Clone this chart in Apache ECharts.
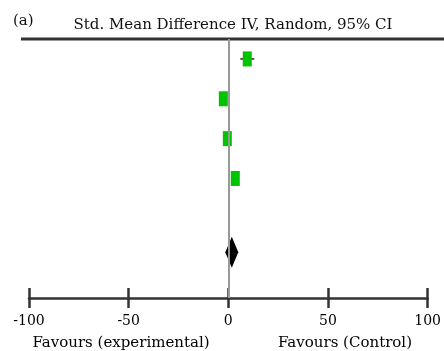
<!DOCTYPE html>
<html>
<head>
<meta charset="utf-8">
<script src="https://cdn.jsdelivr.net/npm/echarts@6/dist/echarts.min.js"></script>
<style>
html,body{margin:0;padding:0;background:#fff;}
#chart{width:444px;height:351px;}
</style>
</head>
<body>
<div id="chart"></div>
<script>
// 研究行 (y 位置) 与效应量
var studyRows = [1, 2, 3, 4];
var studyEffect = [9.5, -2.5, -0.5, 3.5];
var studyLower = [6, -3.5, -1.5, 2.5];
var studyUpper = [13, -1.5, 0.5, 4.5];
// 合并效应 (菱形)
var pooledRow = [5.85];
var pooledEffect = [1.75];
var xTicks = [-100, -50, 0, 50, 100];

var fontName = 'DejaVu Serif';
var chart = echarts.init(document.getElementById('chart'));

var squareData = [];
for (var i = 0; i < studyRows.length; i++) {
	squareData.push([studyEffect[i], studyRows[i]]);
}
var ciData = [];
for (var j = 0; j < studyRows.length; j++) {
	ciData.push([studyLower[j], studyUpper[j], studyRows[j]]);
}

var option = {
	animation: false,
	title: [
		{ text: '(a)', left: 8, top: 9, textStyle: { fontFamily: fontName, fontSize: 15, fontWeight: 'normal', color: '#111' } },
		{ text: 'Std. Mean Difference IV, Random, 95% CI', left: 228, top: 13, textAlign: 'center',
			textStyle: { fontFamily: fontName, fontSize: 15, fontWeight: 'normal', color: '#111' } },
		{ text: 'Favours (experimental)', left: 116, top: 331, textAlign: 'center',
			textStyle: { fontFamily: fontName, fontSize: 15, fontWeight: 'normal', color: '#000' } },
		{ text: 'Favours (Control)', left: 340, top: 331, textAlign: 'center',
			textStyle: { fontFamily: fontName, fontSize: 15, fontWeight: 'normal', color: '#000' } }
	],
	graphic: [
		{ type: 'line', shape: { x1: 21, y1: 39, x2: 444, y2: 39 }, style: { stroke: '#333', lineWidth: 3 } }
	],
	grid: { left: 29, right: 15, top: 39, bottom: 53, containLabel: false },
	xAxis: [
		{
			type: 'value', min: -100, max: 100, interval: 50, position: 'bottom',
			axisLine: { show: true, lineStyle: { color: '#333', width: 2.5 } },
			axisTick: { show: true, length: 10, lineStyle: { color: '#333', width: 2.5 } },
			axisLabel: { margin: 16, fontFamily: fontName, fontSize: 14, color: '#000',
				formatter: function(v) { return xTicks.indexOf(v) >= 0 ? String(v) : ''; } },
			splitLine: { show: false }
		},
		{
			type: 'value', min: -100, max: 100, interval: 50, position: 'bottom',
			axisLine: { show: false },
			axisTick: { show: true, inside: true, length: 10, lineStyle: { color: '#333', width: 2.5 } },
			axisLabel: { show: false },
			splitLine: { show: false }
		}
	],
	yAxis: {
		type: 'value', min: 0.5, max: 7, inverse: true,
		show: false
	},
	series: [
		{
			type: 'custom',
			renderItem: function(params, api) {
				var p1 = api.coord([api.value(0), api.value(2)]);
				var p2 = api.coord([api.value(1), api.value(2)]);
				return { type: 'line', shape: { x1: p1[0], y1: p1[1], x2: p2[0], y2: p2[1] },
					style: { stroke: '#555', lineWidth: 2 } };
			},
			data: ciData,
			z: 2
		},
		{
			type: 'scatter',
			symbol: 'rect',
			symbolSize: [9, 15],
			itemStyle: { color: '#00c400', opacity: 1 },
			data: squareData,
			z: 3,
			markLine: {
				silent: true,
				symbol: 'none',
				label: { show: false },
				lineStyle: { color: '#999', width: 2, type: 'solid' },
				data: [{ xAxis: 0 }]
			}
		},
		{
			type: 'scatter',
			symbol: 'diamond',
			symbolSize: [13, 31],
			itemStyle: { color: '#000', opacity: 1 },
			data: [[pooledEffect[0], pooledRow[0]]],
			z: 4
		}
	]
};
chart.setOption(option);
</script>
</body>
</html>
